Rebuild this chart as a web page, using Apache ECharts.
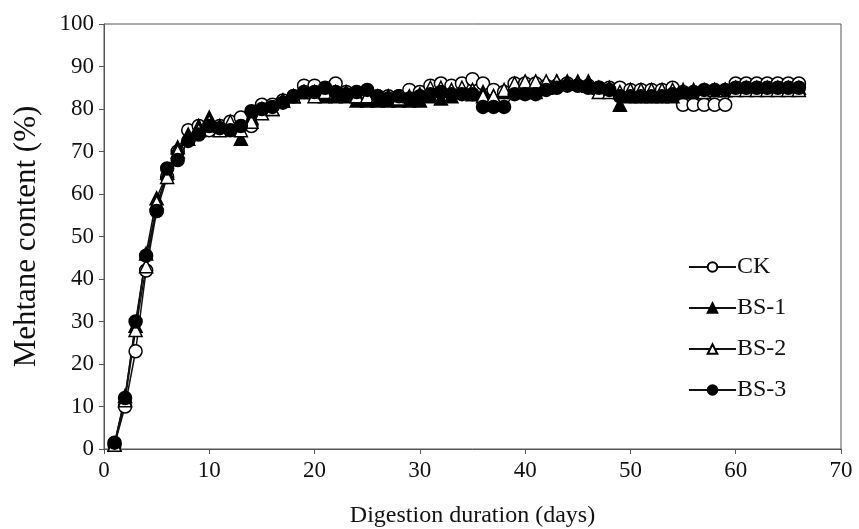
<!DOCTYPE html>
<html>
<head>
<meta charset="utf-8">
<script src="https://cdn.jsdelivr.net/npm/echarts@6/dist/echarts.min.js"></script>
<style>
  html, body { margin: 0; padding: 0; background: #fff; }
  #main { width: 859px; height: 529px; }
</style>
</head>
<body>
<div id="main"></div>
<script>
// digestion day 1..66
var days = [];
for (var d = 1; d <= 66; d++) days.push(d);

var ck = [1, 10, 23, 42, 56, 64, 70, 75, 76, 75,
  76, 77, 78, 76, 81, 81, 82, 83, 85.5, 85.5,
  84.5, 86, 84, 83.5, 83.5, 83, 83, 83, 84.5, 84,
  85.5, 86, 85.5, 86, 87, 86, 84.5, 84, 86, 86,
  86, 85.5, 85.5, 86, 85.5, 85.5, 85, 85, 85, 84.5,
  84.5, 84.5, 84.5, 85, 81, 81, 81, 81, 81, 86,
  86, 86, 86, 86, 86, 86];
var bs1 = [1, 12.5, 29, 46, 59, 65, 71, 74, 76, 78,
  76, 76, 73, 78, 80, 80, 82, 83, 84, 84,
  83, 83, 83, 82, 82, 82, 82, 82, 82, 82,
  83, 82.5, 83, 84, 83.5, 84, 83, 84, 84, 84,
  84, 85, 86.5, 86.5, 86.5, 86.5, 85, 85, 81, 83,
  83, 83, 83, 83, 84, 84, 84.5, 84.5, 84.5, 85,
  85, 85, 85, 85, 85, 85];
var bs2 = [1, 11.5, 28, 43, 58, 64, 70, 73, 75, 77,
  75, 77, 75, 77, 79, 80, 82, 83, 84, 83,
  84, 84, 84, 83, 83, 83, 83, 82.5, 83, 83.5,
  85, 85, 84.5, 85, 84.5, 83, 83, 84.5, 86, 86.5,
  86.5, 86.5, 86.5, 86, 86, 85.5, 84, 84, 84, 84.5,
  84.5, 84.5, 84.5, 84.5, 84.5, 84.5, 84, 84.5, 84.5, 84.5,
  84.5, 84.5, 84.5, 84.5, 84.5, 84.5];
var bs3 = [1.5, 12, 30, 45.5, 56, 66, 68, 72.5, 74, 76,
  75.5, 75, 76, 79.5, 80, 80.5, 81.5, 83, 84, 84,
  85, 84, 83.5, 84, 84.5, 83, 82.5, 83, 82.5, 83,
  83.5, 84, 83.5, 83.5, 83.5, 80.5, 80.5, 80.5, 83.5, 83.5,
  83.5, 84.5, 85, 85.5, 85.5, 85, 85, 84.5, 83, 83,
  83, 83, 83, 83.5, 84, 84, 84.5, 84.5, 84.5, 85,
  85, 85, 85, 85, 85, 85];

function pairs(vals) {
  return vals.map(function (v, i) { return [days[i], v]; });
}

var font = 'Liberation Serif';
var ink = '#000';

function makeSeries(name, vals, symbol, filled) {
  return {
    name: name,
    type: 'line',
    data: pairs(vals),
    symbol: symbol,
    symbolSize: 13,
    showAllSymbol: true,
    lineStyle: { color: '#111', width: 1.5 },
    itemStyle: {
      color: filled ? ink : '#fff',
      borderColor: ink,
      borderWidth: 1.5
    },
    emphasis: { disabled: true },
    animation: false
  };
}

var chart = echarts.init(document.getElementById('main'));
chart.setOption({
  backgroundColor: '#fff',
  grid: {
    left: 104, right: 18, top: 24, bottom: 80,
    outerBoundsMode: 'none',
    show: true, borderColor: '#555', borderWidth: 1
  },
  legend: {
    orient: 'vertical',
    left: 683, top: 250,
    itemWidth: 47, itemHeight: 12, itemGap: 17,
    textStyle: { fontFamily: font, fontSize: 24, color: '#111', padding: [0, 0, 0, -4] },
    data: ['CK', 'BS-1', 'BS-2', 'BS-3']
  },
  xAxis: {
    type: 'value',
    min: 0, max: 70, interval: 10,
    name: 'Digestion duration (days)',
    nameLocation: 'middle',
    nameGap: 55,
    nameTextStyle: { fontFamily: font, fontSize: 24, color: '#111' },
    axisLine: { lineStyle: { color: '#555', width: 1 } },
    axisTick: { show: true, inside: false, length: 5, lineStyle: { color: '#555' } },
    axisLabel: { fontFamily: font, fontSize: 23, color: '#111', margin: 10 },
    splitLine: { show: false }
  },
  yAxis: {
    type: 'value',
    min: 0, max: 100, interval: 10,
    name: 'Mehtane content (%)',
    nameLocation: 'middle',
    nameGap: 62,
    nameRotate: 90,
    nameTextStyle: { fontFamily: font, fontSize: 31, color: '#111' },
    axisLine: { show: true, lineStyle: { color: '#555', width: 1 } },
    axisTick: { show: true, inside: false, length: 5, lineStyle: { color: '#555' } },
    axisLabel: { fontFamily: font, fontSize: 23, color: '#111', margin: 10 },
    splitLine: { show: false }
  },
  series: [
    makeSeries('CK', ck, 'circle', false),
    makeSeries('BS-1', bs1, 'triangle', true),
    makeSeries('BS-2', bs2, 'triangle', false),
    makeSeries('BS-3', bs3, 'circle', true)
  ]
});
</script>
</body>
</html>
